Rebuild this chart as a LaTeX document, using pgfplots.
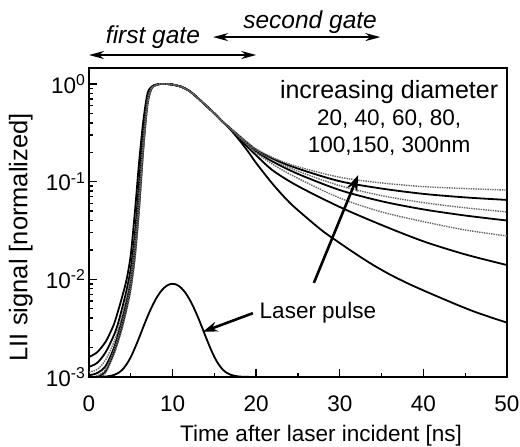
\documentclass[border=0pt]{standalone}
\usepackage{fontspec}
\setmainfont{Liberation Sans}
\usepackage{pgfplots}
\pgfplotsset{compat=1.18}
\usetikzlibrary{arrows.meta}
\newcommand{\fs}{\fontsize{22.5}{27}\selectfont}
\newcommand{\fl}{\fontsize{25.5}{30}\selectfont}
\begin{document}
\begin{tikzpicture}[
  sol/.style={black, line width=1.8pt, smooth},
  dot/.style={black!60, line width=1.4pt, densely dotted, smooth}
]
\begin{axis}[
  name=ax,
  scale only axis, width=418pt, height=309pt,
  ymode=log, xmin=0, xmax=50, ymin=1e-3, ymax=1.458,
  xtick={0,10,20,30,40,50}, xticklabels={0,10,20,30,40,50},
  minor xtick={5,15,25,35,45},
  ytick={1e-3,1e-2,1e-1,1},
  yticklabels={10\textsuperscript{-3},10\textsuperscript{-2},10\textsuperscript{-1},10\textsuperscript{0}},
  minor ytick={2e-3,3e-3,4e-3,5e-3,6e-3,7e-3,8e-3,9e-3,2e-2,3e-2,4e-2,5e-2,6e-2,7e-2,8e-2,9e-2,0.2,0.3,0.4,0.5,0.6,0.7,0.8,0.9},
  xtick pos=bottom, ytick pos=left, tick align=inside,
  major tick length=8pt, minor tick length=4.5pt,
  every tick/.style={black, line width=1.4pt},
  axis line style={line width=2pt},
  ticklabel style={font=\fs},
  xticklabel style={yshift=-15pt},
  xlabel={Time after laser incident [ns]},
  ylabel={LII signal [normalized]},
  xlabel style={font=\fs, at={(rel axis cs:0.555,-0.19)}, anchor=center},
  ylabel style={font=\fl, at={(rel axis cs:-0.163,0.452)}, anchor=center, rotate=0},
  clip mode=individual
]
% 20 nm
\addplot[sol] coordinates {(0,0.0016) (1,0.0018) (2,0.0023) (2.5,0.0028) (3,0.0035) (3.5,0.0048) (4,0.0068) (4.5,0.010) (5,0.018) (5.5,0.05) (6,0.16) (6.5,0.42) (7,0.8) (7.5,0.94) (8,0.985) (8.5,1.0) (9,1.0) (9.5,0.997) (10,0.985) (10.5,0.965) (11,0.94) (12,0.85) (13,0.72) (14,0.6) (15,0.5) (16,0.41) (17,0.335) (18,0.265) (19,0.205) (20,0.155) (22,0.094) (24,0.061) (26,0.043) (28,0.031) (30,0.0235) (32,0.018) (34,0.014) (36,0.0112) (38,0.0092) (40,0.0077) (42,0.0065) (44,0.0055) (46,0.0047) (48,0.0041) (50,0.0036)};
% 40 nm
\addplot[sol] coordinates {(0,0.00127) (1,0.0014) (2,0.0018) (3,0.0027) (3.5,0.0036) (4,0.0052) (4.5,0.0078) (5,0.013) (5.5,0.03) (6,0.1) (6.5,0.33) (7,0.75) (7.5,0.93) (8,0.98) (8.5,1.0) (9,1.0) (9.5,0.997) (10,0.985) (10.5,0.965) (11,0.94) (12,0.85) (13,0.72) (14,0.6) (15,0.5) (16,0.41) (17,0.34) (18,0.275) (19,0.225) (20,0.186) (22,0.13) (25,0.09) (30,0.055) (35,0.036) (40,0.0245) (45,0.018) (50,0.014)};
% 80 nm
\addplot[sol] coordinates {(0,0.00104) (1,0.0011) (2,0.0013) (3,0.002) (3.5,0.0028) (4,0.004) (4.5,0.006) (5,0.0098) (5.5,0.022) (6,0.07) (6.5,0.26) (7,0.67) (7.5,0.915) (8,0.975) (8.5,1.0) (9,1.0) (9.5,0.997) (10,0.985) (10.5,0.965) (11,0.94) (12,0.85) (13,0.72) (14,0.6) (15,0.5) (16,0.41) (17,0.344) (18,0.288) (19,0.24) (20,0.203) (22,0.16) (25,0.12) (30,0.082) (35,0.063) (40,0.052) (45,0.045) (50,0.040)};
% 150 nm
\addplot[sol] coordinates {(0,0.00097) (1,0.001) (2,0.00115) (3,0.0018) (3.5,0.0024) (4,0.0034) (4.5,0.0051) (5,0.0083) (5.5,0.018) (6,0.055) (6.5,0.22) (7,0.62) (7.5,0.905) (8,0.97) (8.5,1.0) (9,1.0) (9.5,0.997) (10,0.985) (10.5,0.965) (11,0.94) (12,0.85) (13,0.72) (14,0.6) (15,0.5) (16,0.41) (17,0.346) (18,0.292) (19,0.247) (20,0.212) (22,0.171) (25,0.136) (30,0.101) (35,0.085) (40,0.075) (45,0.069) (50,0.065)};
% 60 nm
\addplot[dot] coordinates {(0,0.00112) (1,0.0012) (2,0.0015) (3,0.0023) (3.5,0.0031) (4,0.0045) (4.5,0.0067) (5,0.011) (5.5,0.025) (6,0.08) (6.5,0.29) (7,0.7) (7.5,0.92) (8,0.975) (8.5,1.0) (9,1.0) (9.5,0.997) (10,0.985) (10.5,0.965) (11,0.94) (12,0.85) (13,0.72) (14,0.6) (15,0.5) (16,0.41) (17,0.342) (18,0.283) (19,0.235) (20,0.197) (22,0.15) (25,0.108) (30,0.068) (35,0.049) (40,0.039) (45,0.032) (50,0.0278)};
% 100 nm
\addplot[dot] coordinates {(0,0.001) (1,0.00103) (2,0.0012) (3,0.0019) (3.5,0.0026) (4,0.0037) (4.5,0.0055) (5,0.009) (5.5,0.02) (6,0.062) (6.5,0.24) (7,0.64) (7.5,0.91) (8,0.97) (8.5,1.0) (9,1.0) (9.5,0.997) (10,0.985) (10.5,0.965) (11,0.94) (12,0.85) (13,0.72) (14,0.6) (15,0.5) (16,0.41) (17,0.345) (18,0.29) (19,0.244) (20,0.208) (22,0.166) (25,0.128) (30,0.091) (35,0.072) (40,0.061) (45,0.054) (50,0.049)};
% 300 nm
\addplot[dot] coordinates {(0,0.00095) (1,0.00097) (2,0.0011) (3,0.0017) (3.5,0.0023) (4,0.0032) (4.5,0.0048) (5,0.0078) (5.5,0.016) (6,0.05) (6.5,0.2) (7,0.6) (7.5,0.9) (8,0.97) (8.5,1.0) (9,1.0) (9.5,0.997) (10,0.985) (10.5,0.965) (11,0.94) (12,0.85) (13,0.72) (14,0.6) (15,0.5) (16,0.41) (17,0.347) (18,0.294) (19,0.25) (20,0.216) (22,0.176) (25,0.142) (30,0.111) (35,0.097) (40,0.089) (45,0.085) (50,0.082)};
% laser pulse
\addplot[sol] coordinates {(0,0.0010003) (2,0.00101) (3,0.00105) (3.5,0.0011) (4,0.00119) (4.5,0.00135) (5,0.0016) (5.5,0.00199) (6,0.00253) (6.5,0.00326) (7,0.00416) (7.5,0.00519) (8,0.00629) (8.5,0.00734) (9,0.00821) (9.5,0.0088) (10,0.009) (10.5,0.0088) (11,0.00821) (11.5,0.00734) (12,0.00629) (12.5,0.00519) (13,0.00416) (13.5,0.00326) (14,0.00253) (14.5,0.00199) (15,0.0016) (15.5,0.00135) (16,0.00119) (16.5,0.0011) (17,0.00105) (18,0.00101) (20,0.0010003) (22,0.001)};

\node[font=\fs, align=center, anchor=center] at (rel axis cs:0.718,0.838) {{\fontsize{25}{27}\selectfont increasing diameter}\\20, 40, 60, 80,\\100,150, 300nm};
\draw[line width=2.6pt, -{Stealth[length=16pt,width=11pt]}] (axis cs:26.9,0.0092) -- (axis cs:32.2,0.117);
\node[font=\fs, anchor=west] at (axis cs:20.0,0.0046) {Laser pulse};
\draw[line width=2.6pt, -{Stealth[length=15pt,width=10pt]}] (axis cs:19.6,0.0045) -- (axis cs:13.6,0.0029);
\draw[line width=1.8pt, {Stealth[length=15pt,width=8pt]}-{Stealth[length=15pt,width=8pt]}] (rel axis cs:0,1.042) -- (rel axis cs:0.4,1.042);
\draw[line width=1.8pt, {Stealth[length=15pt,width=8pt]}-{Stealth[length=15pt,width=8pt]}] (rel axis cs:0.297,1.10) -- (rel axis cs:0.697,1.10);
\node[font=\fontsize{24.5}{28}\selectfont\itshape] at (rel axis cs:0.153,1.10) {first gate};
\node[font=\fontsize{24.5}{28}\selectfont\itshape] at (rel axis cs:0.529,1.149) {second gate};
\end{axis}
\pgfresetboundingbox
\path (ax.south west) ++(-89pt,-70pt) rectangle ++(520pt,447pt);
\end{tikzpicture}
\end{document}
